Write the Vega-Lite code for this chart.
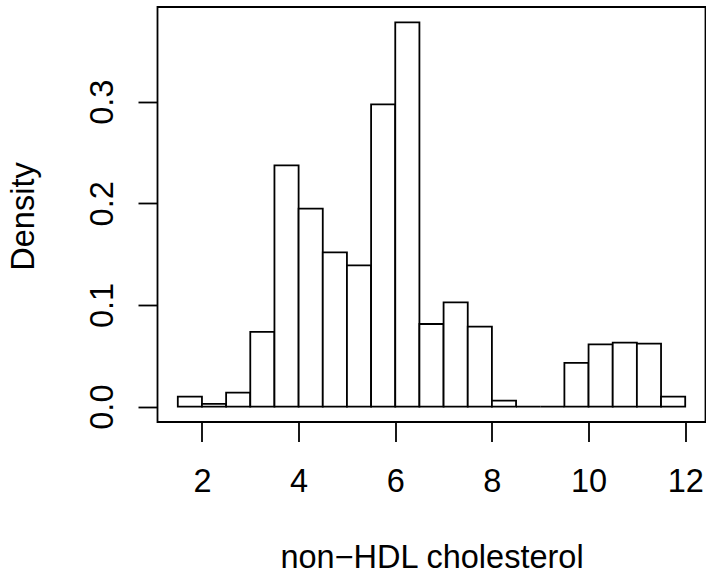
{
  "$schema": "https://vega.github.io/schema/vega-lite/v6.json",
  "width": 548,
  "height": 415,
  "autosize": {"type": "none"},
  "padding": {"left": 157.5, "top": 7, "right": 0.5, "bottom": 150},
  "background": "white",
  "config": {
    "view": {"stroke": "black", "strokeWidth": 1.8, "fill": "white"},
    "font": "Liberation Sans"
  },
  "data": {
    "values": [
      {"lo": 1.5, "hi": 2.0, "density": 0.0098},
      {"lo": 2.0, "hi": 2.5, "density": 0.0027},
      {"lo": 2.5, "hi": 3.0, "density": 0.0138},
      {"lo": 3.0, "hi": 3.5, "density": 0.0735},
      {"lo": 3.5, "hi": 4.0, "density": 0.2373},
      {"lo": 4.0, "hi": 4.5, "density": 0.1947},
      {"lo": 4.5, "hi": 5.0, "density": 0.1517},
      {"lo": 5.0, "hi": 5.5, "density": 0.1390},
      {"lo": 5.5, "hi": 6.0, "density": 0.2973},
      {"lo": 6.0, "hi": 6.5, "density": 0.3780},
      {"lo": 6.5, "hi": 7.0, "density": 0.0813},
      {"lo": 7.0, "hi": 7.5, "density": 0.1026},
      {"lo": 7.5, "hi": 8.0, "density": 0.0787},
      {"lo": 8.0, "hi": 8.5, "density": 0.0059},
      {"lo": 8.5, "hi": 9.0, "density": 0.0},
      {"lo": 9.0, "hi": 9.5, "density": 0.0},
      {"lo": 9.5, "hi": 10.0, "density": 0.0430},
      {"lo": 10.0, "hi": 10.5, "density": 0.0613},
      {"lo": 10.5, "hi": 11.0, "density": 0.0629},
      {"lo": 11.0, "hi": 11.5, "density": 0.0620},
      {"lo": 11.5, "hi": 12.0, "density": 0.0098}
    ]
  },
  "mark": {"type": "rect", "fill": "white", "stroke": "black", "strokeWidth": 1.8},
  "encoding": {
    "x": {
      "field": "lo",
      "type": "quantitative",
      "scale": {"domain": [1.08, 12.42], "nice": false, "zero": false},
      "axis": {
        "values": [2, 4, 6, 8, 10, 12],
        "domain": false,
        "grid": false,
        "ticks": true,
        "tickSize": 19.5,
        "tickColor": "black",
        "tickWidth": 1.8,
        "labelFont": "Liberation Sans",
        "labelFontSize": 32.5,
        "labelColor": "black",
        "labelBaseline": "alphabetic",
        "labelPadding": 49.5,
        "labelFlush": false,
        "labelOverlap": false,
        "title": "non−HDL cholesterol",
        "titleFont": "Liberation Sans",
        "titleFontSize": 32.5,
        "titleFontWeight": "normal",
        "titleColor": "black",
        "titleBaseline": "alphabetic",
        "titleAlign": "center",
        "titleX": 274,
        "titleY": 145
      }
    },
    "x2": {"field": "hi"},
    "y": {
      "field": "density",
      "type": "quantitative",
      "scale": {"domain": [-0.01512, 0.39312], "nice": false, "zero": false},
      "axis": {
        "values": [0, 0.1, 0.2, 0.3],
        "format": ".1f",
        "domain": false,
        "grid": false,
        "tickSize": 19.5,
        "tickColor": "black",
        "tickWidth": 1.8,
        "labelFont": "Liberation Sans",
        "labelFontSize": 32.5,
        "labelColor": "black",
        "labelAngle": 270,
        "labelAlign": "center",
        "labelBaseline": "alphabetic",
        "labelPadding": 26,
        "labelFlush": false,
        "labelOverlap": false,
        "title": "Density",
        "titleFont": "Liberation Sans",
        "titleFontSize": 32.5,
        "titleFontWeight": "normal",
        "titleColor": "black",
        "titleAngle": 270,
        "titleBaseline": "alphabetic",
        "titleAlign": "center",
        "titleX": -124.2,
        "titleY": 209
      }
    },
    "y2": {"datum": 0}
  }
}
